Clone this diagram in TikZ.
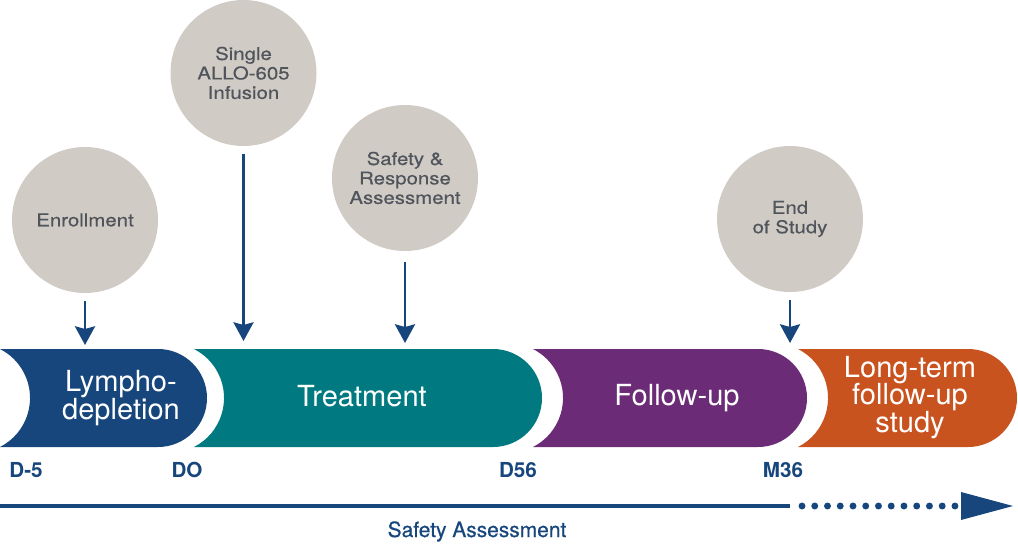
\documentclass[tikz,border=0pt]{standalone}
\usepackage{fontspec}
\setmainfont{TeX Gyre Heros}
\newfontfamily\circfont[FakeStretch=1.16, FakeBold=0.5]{TeX Gyre Heros}
\newfontfamily\medfont[FakeBold=0.6]{TeX Gyre Heros}
\usetikzlibrary{arrows.meta}
\definecolor{allonavy}{RGB}{22,70,124}
\definecolor{alloteal}{RGB}{0,122,128}
\definecolor{allopurple}{RGB}{108,43,118}
\definecolor{alloorange}{RGB}{201,83,31}
\definecolor{stonegray}{RGB}{209,203,198}
\definecolor{slategray}{RGB}{80,85,92}
\tikzstyle{milestone} = [circle, fill=stonegray, minimum size=109.5pt,
                         inner sep=0pt, outer sep=0pt, align=center,
                         text=slategray, font=\circfont\fontsize{13.2}{14.6}\selectfont]
\tikzstyle{phasetext} = [text=white, align=center, font=\fontsize{21.8}{20.8}\selectfont]
\tikzstyle{daylabel} = [anchor=base, text=allonavy, font=\bfseries\fontsize{15.5}{18}\selectfont]
\tikzstyle{pointer} = [draw=allonavy, line width=2.2pt,
                       -{Stealth[length=14pt,width=15pt,inset=2pt]}, shorten <=6pt]

\begin{document}
\begin{tikzpicture}[x=0.75pt, y=0.75pt]
  \useasboundingbox (0,0) rectangle (1018,544);
  % phase bars
  \fill[allonavy] (0,195) -- (158,195) arc[start angle=90, end angle=-90, radius=49]
    -- (0,97) arc[start angle=-63, end angle=63, radius=55] -- cycle;
  \fill[alloteal] (194,195) -- (493,195) arc[start angle=90, end angle=-90, radius=49]
    -- (194,97) arc[start angle=-63, end angle=63, radius=55] -- cycle;
  \fill[allopurple] (533,195) -- (758,195) arc[start angle=90, end angle=-90, radius=49]
    -- (533,97) arc[start angle=-63, end angle=63, radius=55] -- cycle;
  \fill[alloorange] (798,195) -- (968,195) arc[start angle=90, end angle=-90, radius=49]
    -- (798,97) arc[start angle=-63, end angle=63, radius=55] -- cycle;
  \node[phasetext] (lympho) at (121,146) {Lympho-\\depletion};
  \node[phasetext] (treat) at (362,148) {Treatment};
  \node[phasetext] (follow) at (677,146) {Follow-up};
  \node[phasetext] (longterm) at (910,146.5) {Long-term\\follow-up\\study};

  % milestones
  \node[milestone] (enroll) at (85,324) {Enrollment};
  \node[milestone] (infusion) at (243.5,471) {Single\\ALLO-605\\Infusion};
  \node[milestone] (assess) at (405,366) {Safety \&\\Response\\Assessment};
  \node[milestone] (eos) at (790,325) {End\\of Study};
  \coordinate (enrolltip) at (85,199);
  \coordinate (infusiontip) at (243.5,203);
  \coordinate (assesstip) at (405,201);
  \coordinate (eostip) at (790,201);
  \draw[pointer] (enroll) -- (enrolltip);
  \draw[pointer] (infusion) -- (infusiontip);
  \draw[pointer, shorten <=8pt] (assess) -- (assesstip);
  \draw[pointer] (eos) -- (eostip);

  % days
  \node[daylabel] (dminus5) at (26,67) {D-5};
  \node[daylabel] (dzero) at (187,67) {DO};
  \node[daylabel] (d56) at (518,67) {D56};
  \node[daylabel] (m36) at (783,67) {M36};

  % safety assessment arrow
  \coordinate (safestart) at (0,38);
  \coordinate (safesolid) at (790,38);
  \coordinate (safedots) at (802,38);
  \coordinate (safedotsend) at (956,38);
  \coordinate (safetip) at (1013,38);
  \draw[allonavy, line width=3.4pt] (safestart) -- (safesolid);
  \draw[allonavy, line width=5.2pt, line cap=round, dash pattern=on 0pt off 9.56pt]
    (safedots) -- (safedotsend);
  \fill[allonavy] (safetip) -- ++(-52,14) -- ++(0,-28) -- cycle;
  \node[anchor=base, text=allonavy, font=\medfont\fontsize{15.7}{18}\selectfont] (safety)
    at (477,7) {Safety Assessment};
\end{tikzpicture}
\end{document}
